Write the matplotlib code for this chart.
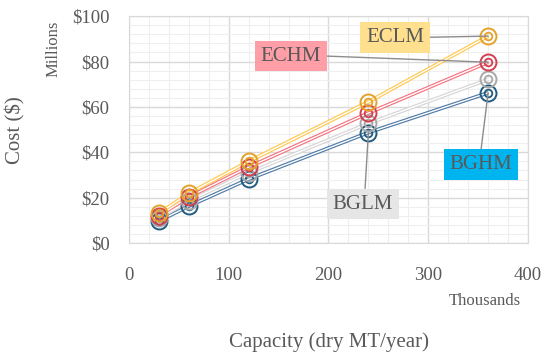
import numpy as np
import matplotlib.pyplot as plt
from matplotlib.ticker import MultipleLocator, FuncFormatter

# capacity in thousands of dry MT/year, cost in millions of $
capacity = [30, 60, 120, 240, 360]
eclm = [13.1, 21.9, 36.0, 62.2, 91.2]
echm = [12.0, 20.3, 33.5, 57.3, 79.7]
bglm = [11.0, 18.6, 31.0, 52.7, 72.1]
bghm = [9.7, 16.3, 28.2, 48.7, 66.2]

names = ["BGHM", "BGLM", "ECHM", "ECLM"]
series = [bghm, bglm, echm, eclm]
line_cols = ["#4f7ba6", "#d6d6d6", "#f4727f", "#ffc84f"]
mark_cols = ["#1f5a80", "#a8a8a8", "#d2404f", "#e3a229"]
box_cols = {"ECLM": "#ffe08f", "ECHM": "#ff9ea6", "BGHM": "#00b5ef", "BGLM": "#e6e6e6"}

txt = "#595959"
plt.rcParams['font.family'] = ['Liberation Serif', 'DejaVu Serif']

fig = plt.figure(figsize=(5.5, 3.59), dpi=100)
ax = fig.add_axes([0.2345, 0.323, 0.7255, 0.632])

for ys, lc, mc in zip(series, line_cols, mark_cols):
    ax.plot(capacity, ys, color=lc, lw=2.7, zorder=3, solid_capstyle='butt')
    ax.plot(capacity, ys, color="white", lw=1.0, zorder=3.1)
    ax.plot(capacity, ys, ls='none', marker='o', ms=11.5, mfc='none', mec=mc, mew=1.4, zorder=4)
    ax.plot(capacity, ys, ls='none', marker='o', ms=5.5, mfc='none', mec=mc, mew=1.3, zorder=4)

ax.set_xlim(0, 400)
ax.set_ylim(0, 100)
ax.xaxis.set_major_locator(MultipleLocator(100))
ax.xaxis.set_minor_locator(MultipleLocator(20))
ax.yaxis.set_major_locator(MultipleLocator(20))
ax.yaxis.set_minor_locator(MultipleLocator(4))
ax.yaxis.set_major_formatter(FuncFormatter(lambda v, p: f"${v:.0f}"))
ax.grid(which='major', color="#d9d9d9", lw=1.0, zorder=0)
ax.grid(which='minor', color="#efefef", lw=0.8, zorder=0)
ax.set_axisbelow(True)
for s in ax.spines.values():
    s.set_color("#d9d9d9")
ax.tick_params(which='both', length=0, colors=txt, labelsize=13.5)
ax.tick_params(axis='x', pad=17)
ax.tick_params(axis='y', pad=14)

# labels with leader lines (label centre, target point, leader start) in data coords
labels = [
    ("ECLM", (267, 90.5), (360, eclm[4]), (301, 90.7)),
    ("ECHM", (162, 82.4), (360, echm[4]), (198, 82.4)),
    ("BGHM", (353, 34.6), (360, bghm[4]), (353, 41.4)),
    ("BGLM", (234.5, 17.2), (240, bghm[3]), (236.7, 24.2)),
]
for name, pos, target, start in labels:
    ax.plot([start[0], target[0]], [start[1], target[1]], color="#8c8c8c", lw=1.0, zorder=5)
    ax.text(pos[0], pos[1], name, ha='center', va='center', fontsize=15, color=txt, zorder=6,
            bbox=dict(boxstyle='square,pad=0.28', fc=box_cols[name], ec='none'))

fig.text(0.029, 0.638, "Cost ($)", rotation=90, ha='center', va='center', fontsize=15, color=txt)
fig.text(0.097, 0.863, "Millions", rotation=90, ha='center', va='center', fontsize=12, color=txt)
fig.text(0.881, 0.162, "Thousands", ha='center', va='center', fontsize=12, color=txt)
fig.text(0.598, 0.048, "Capacity (dry MT/year)", ha='center', va='center', fontsize=15, color=txt)

fig.savefig("out.png", dpi=100)
